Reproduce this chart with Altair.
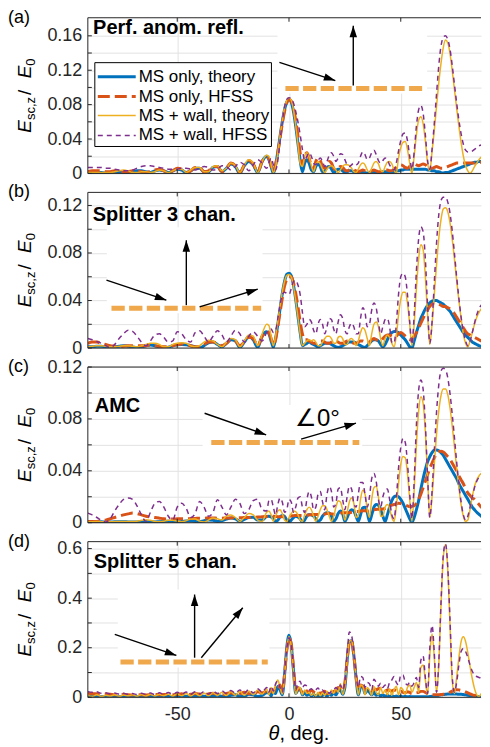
import math
import altair as alt
import pandas as pd

SERIES = ["MS only, theory", "MS only, HFSS", "MS + wall, theory", "MS + wall, HFSS"]
THETA = list(range(-90, -9, 2)) + list(range(-9, 91))

# ---------------- panel (a) ----------------
A_MS_TH = [
.001,.001,.0015,.001,.0005,.001,.002,.002,.0015,.001,
.002,.003,.003,.002,.001,.003,.004,.003,.001,.003,
.005,.004,.001,.003,.006,.006,.002,.002,.007,.008,
.002,.006,.011,.008,.000,.009,.014,.010,.001,.014,.020,
.016,.008,.000,.010,.025,.043,.060,.074,.083,.086,
.083,.072,.055,.035,.015,.002,.012,.016,.012,.004,
.002,.008,.011,.008,.002,.003,.007,.008,.005,.001,
.003,.005,.005,.003,.001,.002,.003,.003,.002,.001,
.001,.002,.002,.001,.0005,.001,.002,.002,.001,.0005,
.001,.002,.002,.002,.001,.001,.002,.003,.003,.004,
.004,.005,.005,.005,.005,.005,.005,.005,.005,.005,
.005,.004,.004,.003,.003,.002,.002,.001,.0005,.001,
.001,.002,.003,.004,.005,.006,.007,.008,.009,.010,
.011,.012,.013,.013,.014,.014,.015,.015,.015,.016]
A_MS_HF = [
.002,.003,.003,.003,.002,.002,.003,.003,.002,.002,
.003,.003,.002,.001,.002,.004,.005,.003,.001,.003,
.006,.005,.001,.003,.007,.007,.002,.003,.008,.008,
.002,.006,.012,.009,.001,.010,.015,.011,.002,.014,.019,
.017,.009,.002,.010,.024,.041,.058,.072,.082,.086,
.084,.076,.062,.044,.024,.010,.020,.024,.018,.008,
.006,.014,.018,.015,.008,.006,.011,.014,.012,.006,
.004,.006,.008,.007,.004,.003,.004,.005,.004,.003,
.002,.003,.004,.003,.002,.002,.003,.004,.003,.002,
.002,.003,.004,.004,.003,.003,.005,.007,.009,.010,
.009,.007,.006,.008,.010,.011,.010,.009,.010,.011,
.010,.008,.006,.006,.007,.008,.007,.006,.006,.007,
.008,.009,.010,.011,.012,.012,.012,.012,.012,.012,
.012,.012,.012,.013,.013,.013,.013,.014,.014,.014]
A_WALL_TH = [
.001,.001,.001,.001,.001,.001,.002,.003,.004,.003,
.001,.001,.002,.002,.001,.002,.004,.003,.001,.003,
.005,.005,.001,.004,.007,.007,.002,.002,.008,.009,
.003,.006,.012,.009,.001,.010,.016,.012,.001,.014,.021,
.020,.010,.001,.008,.024,.043,.061,.076,.085,.088,
.085,.074,.056,.034,.012,.008,.020,.024,.019,.009,
.002,.010,.014,.011,.005,.001,.005,.008,.009,.007,
.004,.001,.004,.008,.010,.010,.009,.006,.002,.001,
.005,.010,.012,.010,.004,.001,.006,.012,.014,.011,
.004,.002,.008,.013,.014,.011,.004,.000,.018,.030,
.036,.037,.028,.012,.000,.020,.045,.062,.066,.058,
.038,.012,.003,.025,.050,.078,.105,.128,.146,.155,
.152,.140,.120,.098,.076,.055,.036,.020,.009,.003,
.000,.003,.008,.012,.016,.019,.021,.022,.023,.023]
A_WALL_HF = [
.007,.007,.007,.007,.006,.006,.005,.004,.003,.003,
.004,.006,.008,.009,.009,.008,.007,.006,.005,.005,
.005,.006,.006,.005,.004,.006,.008,.007,.004,.005,
.009,.008,.004,.008,.013,.010,.003,.010,.016,.012,.006,
.012,.018,.010,.004,.015,.038,.060,.077,.086,.088,
.087,.082,.072,.060,.045,.028,.015,.020,.024,.020,
.012,.010,.015,.018,.014,.008,.014,.021,.024,.020,
.014,.018,.023,.022,.016,.010,.008,.010,.012,.010,
.012,.020,.025,.022,.016,.018,.024,.027,.022,.015,
.012,.015,.018,.016,.010,.006,.004,.012,.026,.038,
.046,.047,.038,.020,.005,.025,.055,.074,.079,.070,
.045,.015,.005,.028,.058,.092,.125,.148,.158,.160,
.156,.145,.126,.104,.082,.062,.046,.034,.027,.025,
.025,.026,.028,.030,.032,.033,.034,.035,.035,.036]

# ---------------- panel (b) ----------------
B_MS_TH = [
.001,.001,.0015,.0015,.001,.0005,.001,.0015,.002,.0015,
.001,.0005,.001,.002,.0025,.002,.001,.0003,.0008,.002,
.0028,.003,.0028,.002,.001,.0002,.002,.0045,.005,.003,
.001,.004,.007,.006,.0005,.005,.0095,.007,.0005,.010,.0137,
.012,.006,.0005,.008,.020,.033,.046,.056,.062,.063,
.061,.053,.041,.027,.013,.002,.003,.004,.005,.004,
.003,.002,.001,.002,.003,.004,.004,.004,.003,.002,
.001,.0005,.001,.002,.003,.004,.005,.005,.005,.004,
.003,.002,.001,.0005,.002,.004,.006,.007,.007,.006,
.003,.001,.003,.007,.011,.013,.014,.014,.013,.011,
.009,.007,.004,.001,.000,.006,.013,.019,.025,.029,
.033,.036,.038,.0395,.040,.040,.039,.038,.037,.035,
.033,.031,.028,.025,.022,.019,.016,.013,.011,.009,
.007,.005,.004,.003,.002,.0015,.001,.0005,.0003,.0005]
B_MS_HF = [
.004,.005,.005,.004,.003,.002,.0015,.001,.0015,.002,
.002,.002,.002,.002,.0025,.002,.0015,.001,.001,.002,
.003,.0035,.003,.002,.001,.001,.003,.005,.005,.004,
.002,.004,.007,.006,.002,.005,.009,.008,.002,.010,.014,
.013,.008,.003,.007,.018,.030,.042,.052,.058,.060,
.060,.055,.046,.035,.022,.012,.007,.007,.006,.005,
.004,.004,.005,.006,.006,.005,.004,.004,.005,.006,
.006,.005,.004,.004,.005,.006,.006,.005,.004,.004,
.005,.006,.006,.005,.004,.005,.007,.008,.007,.006,
.006,.008,.010,.011,.011,.010,.009,.010,.012,.013,
.012,.010,.008,.007,.008,.010,.013,.017,.021,.025,
.029,.032,.035,.037,.038,.038,.037,.036,.035,.035,
.034,.033,.031,.029,.026,.023,.020,.017,.014,.012,
.011,.010,.009,.008,.007,.006,.005,.004,.004,.004]
B_WALL_TH = [
.001,.0015,.002,.002,.0015,.001,.001,.0015,.002,.002,
.0015,.001,.002,.003,.004,.004,.003,.001,.001,.003,
.004,.0045,.004,.002,.001,.002,.005,.0065,.006,.003,
.001,.005,.008,.007,.001,.006,.011,.010,.002,.012,.020,
.019,.010,.002,.010,.022,.035,.047,.056,.061,.062,
.060,.052,.040,.026,.012,.002,.004,.006,.007,.006,
.007,.005,.002,.002,.005,.008,.010,.010,.008,.004,
.004,.009,.010,.008,.003,.003,.007,.008,.006,.002,
.006,.013,.017,.015,.008,.002,.012,.020,.022,.018,
.008,.002,.008,.011,.009,.004,.001,.010,.028,.041,
.047,.047,.038,.020,.002,.020,.050,.075,.087,.083,
.060,.028,.003,.020,.045,.070,.092,.108,.117,.118,
.115,.106,.092,.075,.057,.040,.025,.012,.004,.001,
.006,.013,.020,.026,.030,.033,.035,.036,.036,.035]
B_WALL_HF = [
.008,.007,.0055,.004,.002,.0003,.003,.008,.012,.015,
.014,.010,.005,.002,.006,.011,.012,.009,.005,.006,
.0137,.012,.007,.005,.013,.0145,.010,.005,.010,.0145,
.011,.005,.010,.015,.012,.005,.010,.0137,.010,.006,.013,
.015,.016,.013,.015,.025,.036,.045,.047,.046,.045,
.050,.056,.057,.053,.045,.030,.018,.020,.024,.022,
.015,.012,.020,.024,.020,.012,.018,.025,.024,.016,
.012,.022,.028,.025,.015,.012,.018,.021,.018,.012,
.012,.025,.034,.030,.018,.020,.032,.038,.034,.022,
.012,.018,.024,.025,.018,.005,.004,.020,.045,.060,
.063,.060,.045,.022,.003,.028,.065,.092,.102,.098,
.075,.035,.004,.022,.055,.088,.112,.124,.127,.127,
.123,.114,.099,.080,.060,.042,.026,.014,.006,.002,
.006,.013,.021,.028,.033,.036,.038,.038,.038,.037]

# ---------------- panel (c) ----------------
C_MS_TH = [
.0005,.0005,.0007,.0007,.0005,.0005,.0007,.0008,.0008,.0006,
.0005,.0006,.0008,.0009,.0008,.0006,.0008,.001,.0012,.001,
.0008,.001,.0014,.0015,.001,.0008,.0015,.002,.0018,.001,
.0015,.0028,.0036,.003,.001,.0025,.004,.0042,.002,.002,.0048,
.005,.0045,.003,.001,.002,.0045,.0055,.005,.002,.0005,
.002,.004,.005,.0045,.003,.0005,.002,.005,.0064,.006,
.005,.003,.001,.002,.005,.007,.0077,.0075,.005,.001,
.003,.007,.009,.007,.001,.004,.008,.010,.009,.005,
.001,.006,.0115,.012,.008,.001,.006,.012,.014,.0135,
.010,.005,.001,.006,.012,.017,.020,.0205,.020,.018,
.015,.011,.007,.003,.0005,.004,.010,.017,.026,.034,
.041,.047,.051,.054,.056,.056,.0555,.054,.052,.049,
.046,.043,.040,.037,.034,.030,.027,.024,.021,.018,
.015,.012,.010,.008,.0065,.005,.0035,.002,.001,.0005]
C_MS_HF = [
.001,.001,.001,.0015,.002,.003,.004,.005,.006,.0068,
.0074,.007,.006,.005,.0045,.004,.0035,.003,.0028,.0028,
.003,.003,.003,.0032,.0033,.0035,.0035,.0036,.0036,.0035,
.0035,.0036,.0037,.0038,.0038,.004,.004,.0042,.0043,.0045,.0047,
.0048,.005,.005,.0048,.0046,.0045,.0046,.0048,.005,.005,
.0052,.0054,.0055,.0056,.0055,.0054,.0055,.0058,.006,.0062,
.0063,.0064,.0062,.006,.0062,.0066,.007,.007,.0068,.0066,
.0066,.007,.0074,.0077,.0077,.0076,.0077,.008,.0083,.0085,
.0087,.009,.0092,.0092,.009,.0092,.0097,.010,.0102,.0104,
.0104,.0105,.011,.012,.013,.0135,.014,.0145,.015,.0148,
.0143,.0137,.013,.0125,.0125,.013,.015,.018,.022,.027,
.032,.037,.042,.046,.050,.053,.0548,.055,.0545,.053,
.051,.049,.046,.043,.040,.036,.033,.030,.026,.023,
.021,.019,.018,.016,.014,.012,.011,.010,.009,.008]
C_WALL_TH = [
.0008,.0008,.0009,.0008,.0007,.0007,.0009,.001,.001,.0009,
.0009,.0012,.0018,.0023,.0018,.001,.0008,.0012,.0018,.0018,
.0012,.0008,.0016,.0028,.0028,.0012,.0006,.002,.0036,.003,
.002,.005,.006,.004,.001,.004,.007,.006,.002,.001,.008,
.009,.006,.001,.005,.009,.010,.007,.002,.001,.004,
.007,.009,.0085,.006,.002,.001,.006,.010,.012,.010,
.005,.001,.005,.010,.013,.013,.010,.005,.001,.005,
.012,.017,.016,.010,.002,.008,.016,.019,.015,.004,
.006,.018,.025,.022,.010,.004,.018,.027,.028,.020,
.005,.005,.012,.014,.011,.004,.001,.012,.030,.045,
.051,.050,.038,.018,.001,.025,.060,.086,.097,.092,
.070,.035,.004,.020,.045,.068,.086,.098,.103,.103,
.099,.089,.075,.059,.042,.027,.014,.005,.001,.002,
.010,.020,.028,.033,.036,.038,.038,.038,.038,.038]
C_WALL_HF = [
.0074,.006,.004,.002,.0005,.003,.009,.014,.018,.019,
.018,.013,.006,.001,.008,.015,.0164,.012,.005,.002,
.012,.015,.011,.004,.007,.0164,.012,.005,.008,.0177,
.012,.006,.012,.018,.015,.007,.010,.017,.018,.010,.009,
.017,.018,.012,.006,.014,.019,.016,.008,.010,.018,
.016,.008,.012,.019,.020,.012,.008,.018,.024,.020,
.010,.012,.022,.024,.016,.010,.022,.028,.024,.012,
.015,.026,.027,.018,.010,.020,.028,.026,.015,.012,
.022,.031,.031,.022,.012,.020,.034,.038,.032,.018,
.012,.020,.025,.026,.018,.006,.003,.018,.042,.058,
.065,.062,.046,.022,.003,.032,.075,.102,.110,.103,
.076,.036,.004,.024,.055,.085,.106,.117,.119,.118,
.112,.100,.084,.066,.047,.030,.016,.006,.002,.005,
.012,.020,.027,.032,.035,.037,.038,.038,.038,.038]

# ---------------- panel (d) ----------------
D_MS_TH = [
.003,.004,.003,.002,.003,.004,.003,.002,.003,.004,
.003,.002,.003,.004,.003,.002,.004,.005,.003,.002,
.004,.006,.004,.002,.005,.007,.004,.002,.006,.008,
.004,.003,.008,.010,.004,.004,.012,.010,.003,.008,.018,
.018,.006,.025,.015,.044,.030,.010,.090,.200,.250,
.210,.110,.015,.030,.035,.010,.020,.008,.015,.005,
.012,.004,.010,.003,.008,.012,.004,.015,.008,.020,
.010,.025,.030,.012,.040,.150,.225,.228,.170,.080,
.010,.040,.045,.015,.030,.020,.010,.020,.008,.012,
.005,.010,.004,.008,.003,.006,.003,.005,.003,.004,
.002,.004,.002,.003,.002,.002,.002,.002,.002,.002,
.002,.002,.003,.004,.005,.006,.008,.010,.011,.012,
.013,.013,.013,.013,.013,.012,.012,.011,.010,.008,
.007,.006,.004,.003,.002,.001,.001,.001,.001,.001]
D_MS_HF = [
.016,.015,.014,.012,.013,.012,.010,.011,.012,.010,
.009,.011,.010,.009,.011,.012,.010,.011,.012,.010,
.012,.014,.010,.012,.015,.013,.010,.014,.016,.012,
.010,.016,.018,.012,.014,.020,.015,.012,.022,.018,.025,
.015,.030,.020,.040,.030,.050,.020,.090,.190,.240,
.215,.120,.030,.040,.030,.020,.035,.025,.020,.030,
.022,.018,.025,.015,.020,.025,.015,.020,.028,.020,
.030,.040,.035,.025,.060,.150,.220,.228,.170,.085,
.030,.050,.045,.030,.035,.030,.025,.035,.030,.035,
.037,.030,.025,.030,.028,.025,.030,.028,.022,.025,
.020,.018,.022,.020,.015,.015,.018,.020,.024,.024,
.020,.015,.012,.010,.010,.010,.010,.011,.012,.012,
.015,.020,.025,.030,.031,.030,.028,.026,.022,.018,
.014,.010,.008,.006,.005,.004,.004,.003,.003,.003]
D_WALL_TH = [
.008,.004,.010,.003,.008,.005,.010,.004,.009,.006,
.010,.004,.011,.005,.012,.005,.012,.006,.013,.005,
.014,.006,.015,.005,.016,.006,.017,.006,.018,.008,
.020,.007,.022,.008,.024,.008,.026,.010,.030,.012,.035,
.010,.040,.015,.050,.070,.040,.012,.085,.195,.245,
.205,.105,.012,.035,.040,.010,.030,.015,.020,.008,
.015,.005,.020,.006,.018,.008,.025,.010,.030,.015,
.037,.020,.055,.012,.045,.150,.225,.230,.175,.080,
.010,.050,.045,.010,.040,.030,.008,.044,.020,.010,
.040,.015,.030,.010,.035,.008,.030,.045,.010,.040,
.030,.012,.040,.050,.020,.040,.060,.020,.120,.130,
.070,.010,.170,.255,.160,.020,.130,.370,.560,.617,
.520,.300,.070,.015,.080,.160,.225,.244,.225,.180,
.125,.075,.035,.010,.003,.015,.025,.030,.032,.033]
D_WALL_HF = [
.023,.020,.022,.016,.018,.014,.017,.013,.016,.012,
.015,.011,.016,.012,.017,.011,.018,.012,.019,.012,
.020,.013,.021,.012,.022,.014,.023,.013,.025,.015,
.026,.015,.028,.017,.030,.016,.032,.018,.035,.020,.040,
.020,.045,.025,.055,.065,.040,.020,.095,.195,.240,
.210,.120,.030,.060,.065,.040,.050,.045,.030,.035,
.025,.030,.038,.025,.030,.020,.028,.015,.025,.030,
.040,.030,.050,.030,.060,.170,.264,.250,.180,.090,
.040,.084,.080,.040,.060,.055,.030,.073,.060,.045,
.057,.040,.050,.035,.060,.070,.084,.060,.050,.090,
.090,.060,.050,.060,.045,.060,.080,.040,.150,.167,
.080,.015,.200,.290,.180,.020,.140,.380,.570,.620,
.530,.320,.090,.020,.060,.130,.185,.197,.185,.160,
.130,.105,.090,.084,.080,.078,.076,.075,.075,.075]

PANEL_TITLES = ["Perf. anom. refl.", "Splitter 3 chan.", "AMC", "Splitter 5 chan."]
LETTERS = ["(a)", "(b)", "(c)", "(d)"]
Y_MAX = [0.181, 0.131, 0.12, 0.628]
Y_GRID = [
    [0, 0.02, 0.04, 0.06, 0.08, 0.10, 0.12, 0.14, 0.16],
    [0, 0.02, 0.04, 0.06, 0.08, 0.10, 0.12],
    [0, 0.02, 0.04, 0.06, 0.08, 0.10, 0.12],
    [0, 0.1, 0.2, 0.3, 0.4, 0.5, 0.6],
]
X_TICKS = [-50, 0, 50]
X_DOMAIN = [-90, 85.9]   # right part of the axes lies outside the picture
ANGLE_LABEL = "∠0°"

# ---------------- styles ----------------
FONT = "Liberation Sans"
TXT = "#262626"
COLORS = ["#0072BD", "#D95319", "#EDB120", "#7E2F8E"]
WIDTHS = [3, 3, 1.5, 1.5]
DASHES = [None, [12, 5], None, [5, 4]]
BAR = "#EFA84C"
W, H = 394, 156
HEAD = "M0,0L0.75,2.3L-0.75,2.3Z"

# schematic insets (pixel offsets inside each panel)
INSETS = [
    dict(bg=(190, 1, 340, 76), bar=(198, 335, 71),
         arrows=[(192, 44.7, 248, 63), (266, 68, 266, 8)], label=None),
    dict(bg=(19, 35, 175, 121), bar=(23.7, 173.7, 116),
         arrows=[(18.7, 88, 78.7, 108), (98.7, 113, 98.7, 48), (112, 114.7, 170.3, 97)], label=None),
    dict(bg=(115, 38, 275, 83), bar=(123.7, 272, 75.7),
         arrows=[(117, 46.3, 178.7, 68), (213.7, 72.3, 268.7, 56.3)], label=(230, 52)),
    dict(bg=(30, 48, 182, 126), bar=(32.7, 180.3, 120.7),
         arrows=[(27, 93, 88.7, 114), (107, 116.3, 107, 53), (113.7, 116.3, 155.3, 66.3)], label=None),
]
TITLE_POS = [(5.3, 16.3), (5, 28.7), (7, 45.3), (6, 26.3)]


def one():
    return alt.InlineData(values=[{"k": 0}])


def text_layer(text, x, y, size, weight="normal", style="normal", align="left",
               baseline="alphabetic", angle=None, color="black"):
    props = dict(text=text, fontSize=size, fontWeight=weight, fontStyle=style,
                 align=align, baseline=baseline, font=FONT, color=color)
    if angle is not None:
        props["angle"] = angle
    return alt.Chart(one()).mark_text(**props).encode(x=alt.value(x), y=alt.value(y))


def rule_layer(x, y, x2, y2, color, width, dash=None):
    props = dict(color=color, strokeWidth=width, strokeCap="butt")
    if dash:
        props["strokeDash"] = dash
    return alt.Chart(one()).mark_rule(**props).encode(
        x=alt.value(x), y=alt.value(y), x2=alt.value(x2), y2=alt.value(y2))


def rect_layer(x, y, x2, y2, stroke=None):
    props = dict(fill="white", opacity=1)
    if stroke:
        props.update(stroke=stroke, strokeWidth=1)
    else:
        props.update(strokeWidth=0)
    return alt.Chart(one()).mark_rect(**props).encode(
        x=alt.value(x), y=alt.value(y), x2=alt.value(x2), y2=alt.value(y2))


def arrow_layers(x1, y1, x2, y2):
    ang = math.degrees(math.atan2(x2 - x1, -(y2 - y1))) % 360
    head = alt.Chart(one()).mark_point(shape=HEAD, size=100, filled=True, color="black",
                                       opacity=1, strokeWidth=0, angle=ang).encode(
        x=alt.value(x2), y=alt.value(y2))
    return [rule_layer(x1, y1, x2, y2, "black", 1.4), head]


def ytitle_layers():
    fs, fss = 19, 13
    adv = {"E": .667, "s": .5, "c": .5, ",": .278, "z": .5, " ": .3, "/": .278, "0": .556}
    pieces = [("E", fs, "italic", 0, 0), ("sc,z", fss, "normal", 4, 2), (" / ", fs, "normal", 0, 0),
              ("E", fs, "italic", 0, 0), ("0", fss, "normal", 4, 0)]
    lens = [sum(adv[c] for c in t) * s + extra for t, s, _, _, extra in pieces]
    y = H / 2 + sum(lens) / 2
    out = []
    for (t, s, st, dx, _), L in zip(pieces, lens):
        out.append(text_layer(t, -57 + dx, y, s, style=st, angle=270, color="black"))
        y -= L
    return out


def legend_layers():
    out = [rect_layer(7, 45, 184, 129, stroke="black")]
    ys = [59, 79, 98, 118]
    for name, col, w, d, y in zip(SERIES, COLORS, WIDTHS, DASHES, ys):
        out.append(rule_layer(10, y, 48, y, col, w, d))
        out.append(text_layer(name, 51, y, 17, baseline="middle"))
    return out


def panel(i, vals4, show_x):
    xscale = alt.Scale(domain=X_DOMAIN, nice=False, zero=False)
    yscale = alt.Scale(domain=[0, Y_MAX[i]], nice=False, zero=True)
    if i < 3:
        lab = "round(datum.value*50) % 2 == 0 ? (datum.value == 0 ? '0' : format(datum.value, '.2f')) : ''"
    else:
        lab = "round(datum.value*10) % 2 == 0 ? (datum.value == 0 ? '0' : format(datum.value, '.1f')) : ''"
    xaxis = alt.Axis(values=X_TICKS, grid=True, labels=show_x, ticks=False, tickSize=0, domain=False,
                     title=None, labelFontSize=18, labelFont=FONT, labelColor=TXT, labelPadding=8,
                     labelExpr="'' + datum.value", gridColor="#E2E2E2")
    yaxis = alt.Axis(values=Y_GRID[i], grid=True, ticks=False, tickSize=0, domain=False, title=None,
                     labelFontSize=18, labelFont=FONT, labelColor=TXT, labelPadding=6, labelExpr=lab,
                     gridColor="#E2E2E2")
    xenc = alt.X("theta:Q", scale=xscale, axis=xaxis)
    yenc = alt.Y("v:Q", scale=yscale, axis=yaxis)

    ins = INSETS[i]
    layers = [rect_layer(*ins["bg"])]
    for vals, col, w, d in zip(vals4, COLORS, WIDTHS, DASHES):
        df = pd.DataFrame(list(zip(THETA, vals)), columns=["theta", "v"])
        props = dict(color=col, strokeWidth=w, interpolate="monotone", clip=True)
        if d:
            props["strokeDash"] = d
        layers.append(alt.Chart(df).mark_line(**props).encode(x=xenc, y=yenc))

    ydf = pd.DataFrame({"v": Y_GRID[i]})
    xdf = pd.DataFrame({"theta": X_TICKS})
    layers += [
        alt.Chart(ydf).mark_rule(color=TXT, strokeWidth=1).encode(y=yenc, x=alt.value(0), x2=alt.value(4)),
        alt.Chart(xdf).mark_rule(color=TXT, strokeWidth=1).encode(x=xenc, y=alt.value(0), y2=alt.value(4)),
        alt.Chart(xdf).mark_rule(color=TXT, strokeWidth=1).encode(x=xenc, y=alt.value(H - 4), y2=alt.value(H)),
        rule_layer(0, 0, 0, H, TXT, 1),
        rule_layer(0, 0, W, 0, TXT, 1),
        rule_layer(0, H, W, H, TXT, 1),
    ]

    bx1, bx2, by = ins["bar"]
    layers.append(rule_layer(bx1, by, bx2, by, BAR, 5, [13.3, 4.4]))
    for a in ins["arrows"]:
        layers += arrow_layers(*a)
    if ins["label"]:
        lx, ly = ins["label"]
        layers.append(text_layer(ANGLE_LABEL, lx, ly, 24, align="center", baseline="middle"))

    tx, ty = TITLE_POS[i]
    layers.append(text_layer(PANEL_TITLES[i], tx, ty, 20, weight="bold"))
    layers.append(text_layer(LETTERS[i], -80, 5, 18))
    layers += ytitle_layers()
    if i == 0:
        layers += legend_layers()
    if show_x:
        layers.append(text_layer("θ", 181, 199, 20, style="italic"))
        layers.append(text_layer(", deg.", 192, 199, 20))
    return alt.layer(*layers).properties(width=W, height=H)


pa = panel(0, [A_MS_TH, A_MS_HF, A_WALL_TH, A_WALL_HF], False)
pb = panel(1, [B_MS_TH, B_MS_HF, B_WALL_TH, B_WALL_HF], False)
pc = panel(2, [C_MS_TH, C_MS_HF, C_WALL_TH, C_WALL_HF], False)
pd_ = panel(3, [D_MS_TH, D_MS_HF, D_WALL_TH, D_WALL_HF], True)

chart = alt.vconcat(pa, pb, pc, pd_, spacing=19, bounds="flush").properties(
    padding={"left": 0, "right": 0, "top": 0, "bottom": 0}, background="white"
).configure_view(stroke=None)

chart.save("out.html", embed_options={"renderer": "svg", "actions": False})
